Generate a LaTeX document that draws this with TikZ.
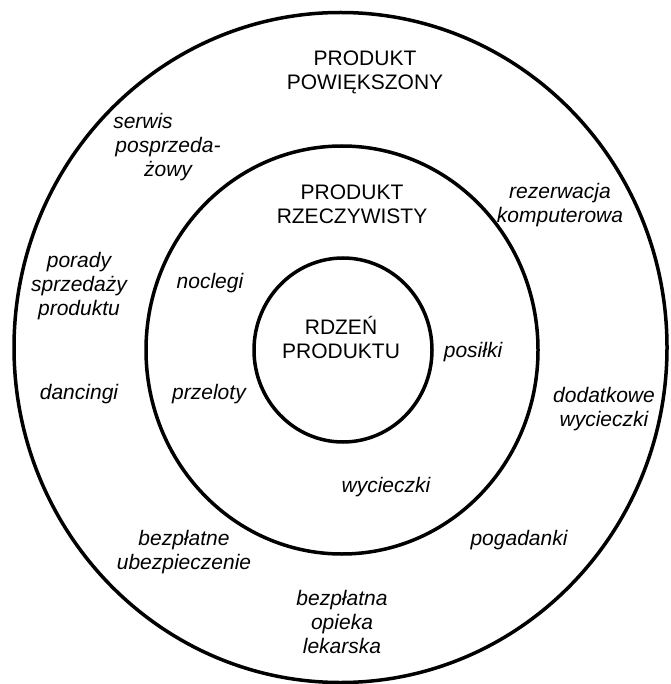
\documentclass[tikz,border=0pt]{standalone}
\usepackage{fontspec}
\setmainfont{Liberation Sans}
\begin{document}
\begin{tikzpicture}[x=1pt,y=-1pt,
  ring/.style={line width=3.5pt, draw=black},
  ringlabel/.style={inner sep=0pt, align=center, font=\fontsize{21}{24}\selectfont},
  itemlabel/.style={inner sep=0pt, align=center, font=\fontsize{21}{24}\selectfont\itshape}]
\useasboundingbox (0,0) rectangle (670,684);
% rings
\draw[ring] (340.5,347.5) ellipse [x radius=326.5, y radius=335];
\draw[ring] (342,350) ellipse [x radius=196, y radius=204];
\draw[ring] (343,350) ellipse [x radius=89, y radius=92];
% ring titles
\node[ringlabel] (pow) at (365,72) {PRODUKT\\POWIĘKSZONY};
\node[ringlabel] (rze) at (352,204.3) {PRODUKT\\RZECZYWISTY};
\node[ringlabel] (rdz) at (341,337.5) {RDZEŃ\\PRODUKTU};
% outer ring items
\node[itemlabel] (serwis) at (168,146.7) {serwis\hspace*{50pt}\\posprzeda-\\żowy};
\node[itemlabel] (rezerw) at (560,205) {rezerwacja\\komputerowa};
\node[itemlabel] (porady) at (79,286) {porady\\sprzedaży\\produktu};
\node[itemlabel] (dancing) at (79,393.7) {dancingi};
\node[itemlabel] (dodat) at (604,409) {dodatkowe\\wycieczki};
\node[itemlabel] (pogad) at (519,539.7) {pogadanki};
\node[itemlabel] (ubezp) at (184,551.7) {bezpłatne\\ubezpieczenie};
\node[itemlabel] (opieka) at (342,621.5) {bezpłatna\\opieka\\lekarska};
% middle ring items
\node[itemlabel] (noclegi) at (210,282.7) {noclegi};
\node[itemlabel] (przel) at (209,393.7) {przeloty};
\node[itemlabel] (posilki) at (473,351.7) {posiłki};
\node[itemlabel] (wyc) at (386,486.7) {wycieczki};
\end{tikzpicture}
\end{document}
